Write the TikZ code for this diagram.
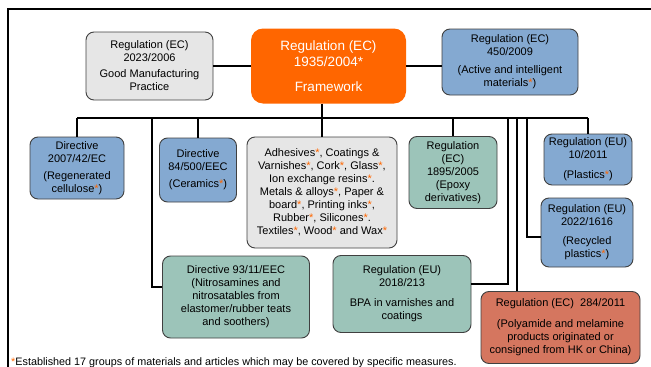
\documentclass[tikz,border=0pt]{standalone}
\usepackage{fontspec}
\setmainfont{Liberation Sans}
\usetikzlibrary{calc}

\definecolor{fworange}{HTML}{FF6600}
\definecolor{regblue}{HTML}{84A9D1}
\definecolor{reggreen}{HTML}{9CC4B9}
\definecolor{reggray}{HTML}{E6E6E6}
\definecolor{regred}{HTML}{D5765F}
\definecolor{regedge}{HTML}{404040}
\newcommand{\ostar}{\textcolor{fworange}{*}}

\begin{document}
\begin{tikzpicture}[x=1pt, y=-1pt,
regbox/.style={draw=regedge, line width=0.9pt, rounded corners=8pt, align=center, inner sep=2pt,
  font=\fontsize{11}{13}\selectfont},
bluebox/.style={regbox, fill=regblue},
greenbox/.style={regbox, fill=reggreen},
graybox/.style={regbox, fill=reggray},
redbox/.style={regbox, fill=regred},
link/.style={black, line width=1.1pt}]
\useasboundingbox (0,0) rectangle (651,367);
\draw[line width=2pt] (7.5,367) -- (7.5,9) -- (651,9);

\node[graybox, minimum width=127pt, minimum height=68pt] (gmp) at (149.5,66)
  {Regulation (EC)\\2023/2006\\[3pt]Good Manufacturing\\Practice};
\node[fill=fworange, rounded corners=12pt, align=center, text=white, minimum width=155pt, minimum height=75pt,
  font=\fontsize{13.5}{16}\selectfont] (fw) at (328.5,66)
  {Regulation (EC)\\1935/2004*\\[9pt]Framework};
\node[bluebox, minimum width=136pt, minimum height=66pt] (a450) at (510,62)
  {Regulation (EC)\\450/2009\\[5pt](Active and intelligent\\materials\ostar)};

\node[bluebox, minimum width=94pt, minimum height=62pt] (d2007) at (77,168)
  {Directive\\2007/42/EC\\[4pt](Regenerated\\cellulose\ostar)};
\node[bluebox, minimum width=77pt, minimum height=64pt] (d84) at (198,170)
  {Directive\\84/500/EEC\\[4pt](Ceramics\ostar)};
\node[graybox, minimum width=150pt, minimum height=111pt] (adh) at (322,192.5)
  {Adhesives\ostar, Coatings \&\\Varnishes\ostar, Cork\ostar, Glass\ostar,\\Ion exchange resins\ostar.\\
   Metals \& alloys\ostar, Paper \&\\board\ostar, Printing inks\ostar,\\Rubber\ostar, Silicones\ostar.\\
   Textiles\ostar, Wood\ostar{} and Wax\ostar};
\node[greenbox, minimum width=88pt, minimum height=72pt] (e1895) at (453,172.5)
  {Regulation\\(EC)\\1895/2005\\(Epoxy\\derivatives)};
\node[bluebox, minimum width=88pt, minimum height=51pt] (p10) at (588,159.5)
  {Regulation (EU)\\10/2011\\[7pt](Plastics\ostar)};
\node[bluebox, minimum width=92pt, minimum height=69pt] (r2022) at (587,232.5)
  {Regulation (EU)\\2022/1616\\[6pt](Recycled\\plastics\ostar)};
\node[greenbox, minimum width=147pt, minimum height=82pt] (n9311) at (236,297)
  {Directive 93/11/EEC\\(Nitrosamines and\\nitrosatables from\\elastomer/rubber teats\\and soothers)};
\node[greenbox, minimum width=138pt, minimum height=77pt] (b2018) at (402,294)
  {Regulation (EU)\\2018/213\\[7pt]BPA in varnishes and\\coatings};
\node[redbox, minimum width=159pt, minimum height=72pt] (c284) at (560.5,327.5)
  {Regulation (EC)\ \ 284/2011\\[8pt](Polyamide and melamine\\products originated or\\consigned from HK or China)};

\coordinate (busL) at (77,118);
\coordinate (busR) at (588,118);
\coordinate (t93) at (152,118);
\coordinate (t2018) at (508,118);
\coordinate (t284) at (517,118);
\coordinate (t2022) at (527,118);

\draw[link] (gmp) -- (fw);
\draw[link] (fw.east) -- (fw.east -| a450.west);
\draw[link] (busL) -- (busR);
\draw[link] (fw.south -| adh.north) -- (adh.north);
\draw[link] (busL) -- (d2007.north);
\draw[link] (d84.north |- busL) -- (d84.north);
\draw[link] (t93) |- ([yshift=10pt]n9311.west);
\draw[link] (e1895.north |- busL) -- (e1895.north);
\draw[link] (t2018) |- ([yshift=10pt]b2018.east);
\draw[link] (t284) -- (t284 |- c284.north);
\draw[link] (t2022) |- ([yshift=-4.5pt]r2022.west);
\draw[link] (busR) -- (p10.north);

\node[anchor=base west, inner sep=0pt, font=\fontsize{10.8}{12}\selectfont] (note) at (11,365)
  {\ostar Established 17 groups of materials and articles which may be covered by specific measures.};
\end{tikzpicture}
\end{document}
